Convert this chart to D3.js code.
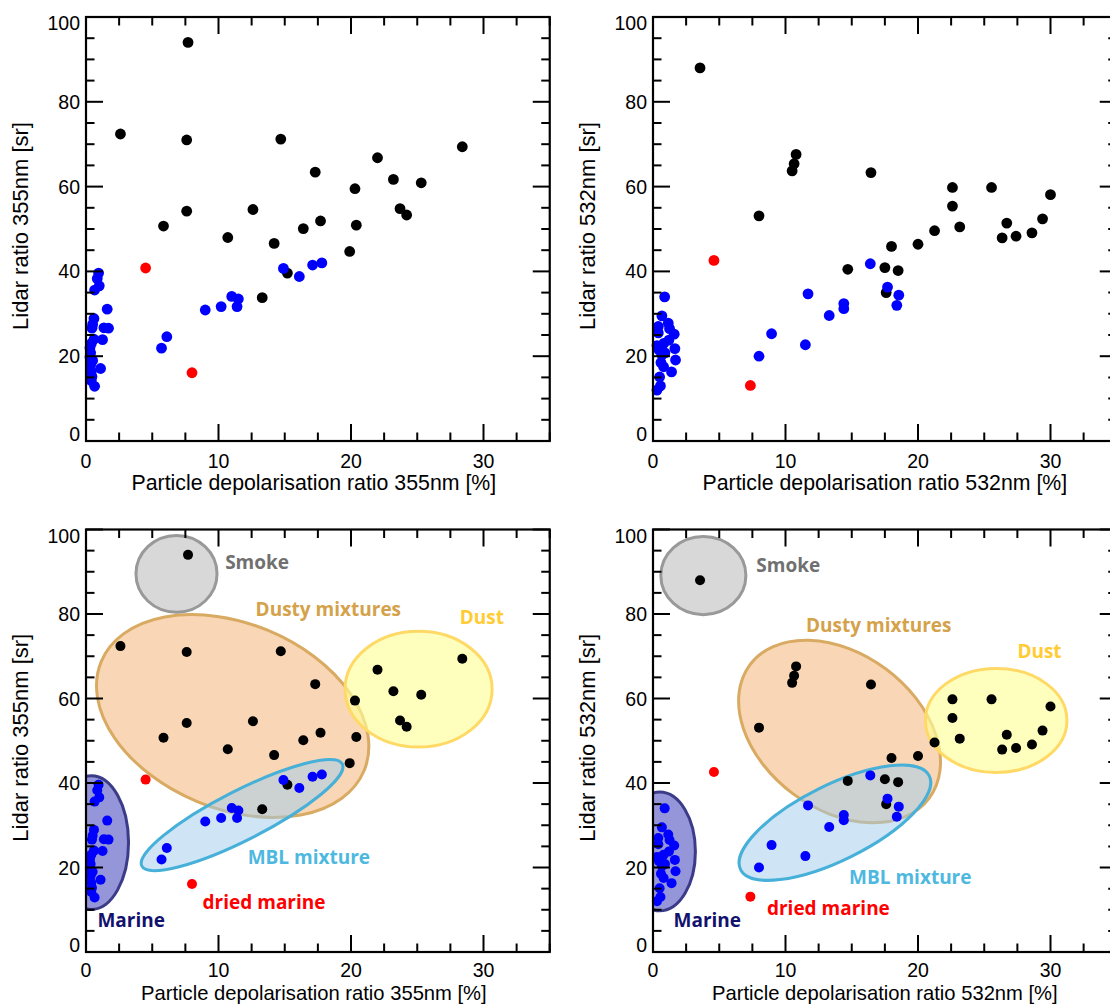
<!DOCTYPE html>
<html><head><meta charset="utf-8">
<script src="https://cdn.jsdelivr.net/npm/d3@7"></script>
<style>body{margin:0;background:#fff}svg{display:block}</style>
</head><body><svg id="c" width="1110" height="1004"></svg>
<script>
// ---------- axes ----------
const xDomain = [0, 35];
const yDomain = [0, 100];
const xMajorTicks = [0, 10, 20, 30];
const yMajorTicks = [0, 20, 40, 60, 80, 100];
const xMinorStep = 2.5;
const yMinorStep = 5;
const xTitles = ["Particle depolarisation ratio 355nm [%]", "Particle depolarisation ratio 532nm [%]"];
const yTitles = ["Lidar ratio 355nm [sr]", "Lidar ratio 532nm [sr]"];

// ---------- 355 nm data [depol %, lidar ratio sr] ----------
const black355 = [
  [7.7,94.0],[2.6,72.4],[7.6,71.0],[14.7,71.2],[28.4,69.4],[22.0,66.8],[17.3,63.4],
  [23.2,61.7],[25.3,60.9],[20.3,59.5],[12.6,54.6],[7.6,54.2],[23.7,54.8],[24.2,53.3],
  [5.85,50.7],[20.4,50.9],[17.7,51.9],[16.4,50.1],[10.7,48.0],[14.2,46.6],[19.9,44.7],
  [15.2,39.6],[13.3,33.8]
];
const red355 = [[4.5,40.8],[8.0,16.1]];
const blue355 = [
  [0.95,39.6],[0.85,38.3],[1.0,36.6],[0.65,35.6],[1.6,31.1],[0.6,28.9],[0.5,27.5],
  [0.45,26.6],[1.35,26.7],[1.7,26.6],[1.25,23.9],[0.6,24.0],[0.4,23.0],[0.3,22.0],
  [0.35,20.8],[0.3,19.8],[0.5,19.0],[0.35,18.0],[1.1,17.1],[0.4,16.4],[0.45,15.2],
  [0.4,14.2],[0.65,12.9],
  [5.7,21.9],[6.1,24.6],[9.0,30.9],[10.2,31.7],[11.0,34.1],[11.5,33.5],[11.4,31.7],
  [14.9,40.7],[16.1,38.8],[17.1,41.5],[17.8,42.0]
];

// ---------- 532 nm data ----------
const black532 = [
  [3.55,88.0],[10.8,67.6],[10.65,65.4],[10.5,63.7],[16.45,63.3],[8.0,53.1],[22.6,59.8],
  [25.55,59.8],[30.0,58.1],[22.6,55.4],[23.15,50.5],[21.25,49.6],[26.7,51.4],[29.4,52.4],
  [26.35,47.9],[27.4,48.3],[28.6,49.1],[20.0,46.4],[18.0,45.9],[14.7,40.5],[17.5,40.9],
  [18.5,40.2],[17.6,35.0]
];
const red532 = [[4.6,42.6],[7.35,13.1]];
const blue532 = [
  [0.88,34.0],[0.67,29.5],[1.15,27.8],[0.4,27.0],[1.25,26.5],[1.6,25.2],[0.4,25.5],
  [1.2,23.8],[0.8,23.0],[0.3,22.5],[1.65,21.8],[0.45,21.5],[0.9,20.8],[0.67,20.3],
  [1.7,19.1],[0.6,18.5],[0.8,17.5],[1.4,16.3],[0.5,15.1],[0.56,13.0],[0.3,12.0],
  [16.4,41.8],[17.7,36.3],[18.55,34.4],[18.4,32.0],[11.7,34.7],[14.4,32.4],[14.4,31.2],
  [13.3,29.6],[8.95,25.3],[11.5,22.7],[8.0,20.0]
];

// ---------- aerosol type regions (centre in data units, semi-axes in x-units, angle deg) ----------
const regionNames = ["Dusty mixtures", "Dust", "Smoke", "MBL mixture", "Marine"];
const regions355 = [
  {cx:11.07, cy:55.85, a:10.74, b:6.99, ang:22.5},
  {cx:25.1,  cy:62.2,  a:5.55,  b:4.37, ang:0},
  {cx:6.83,  cy:89.5,  a:3.06,  b:2.9,  ang:0},
  {cx:11.78, cy:32.4,  a:8.49,  b:1.86, ang:-27},
  {cx:0.4,   cy:25.9,  a:2.81,  b:5.05, ang:0}
];
const regions532 = [
  {cx:14.08, cy:52.2,  a:8.43, b:5.87, ang:36.6},
  {cx:25.9,  cy:54.8,  a:5.34, b:3.93, ang:0},
  {cx:3.8,   cy:89.1,  a:3.21, b:2.95, ang:0},
  {cx:13.73, cy:30.6,  a:7.95, b:2.83, ang:-26.4},
  {cx:0.5,   cy:23.8,  a:2.7,  b:4.48, ang:0}
];
const labelNames = ["Smoke", "Dusty mixtures", "Dust", "MBL mixture", "dried marine", "Marine"];
const labels355 = [[10.5,92.3],[12.8,81.2],[28.2,79.3],[12.2,22.5],[8.8,11.8],[0.86,7.5]];
const labels532 = [[7.8,91.5],[11.55,77.3],[27.5,71.2],[14.8,17.8],[8.6,10.3],[1.55,7.5]];

// ---------- styles ----------
const regionStyle = {
  "Dusty mixtures": {fill:"#f7c596", op:0.7, stroke:"#d8aa62"},
  "Dust":           {fill:"#ffff99", op:0.65, stroke:"#ffd966"},
  "Smoke":          {fill:"#d4d4d4", op:0.9, stroke:"#999999"},
  "MBL mixture":    {fill:"#9fcbee", op:0.5, stroke:"#46b0d8"},
  "Marine":         {fill:"#7272cc", op:0.75, stroke:"#3b3b88"}
};
const labelColor = {
  "Smoke":"#707070", "Dusty mixtures":"#d4a24a", "Dust":"#ffcc33",
  "MBL mixture":"#4db8e0", "dried marine":"#ff0000", "Marine":"#12126e"
};
const axisFont = "'Liberation Sans', Arial, Helvetica, sans-serif";
const labelFont = "'Open Sans', 'Noto Sans', sans-serif";

const panels = [
  {left:86,  top:17,    bottom:441, black:black355, red:red355, blue:blue355, k:0, regions:null},
  {left:653, top:17,    bottom:441, black:black532, red:red532, blue:blue532, k:1, regions:null},
  {left:86,  top:529.5, bottom:952, black:black355, red:red355, blue:blue355, k:0, regions:regions355, labels:labels355},
  {left:653, top:529.5, bottom:952, black:black532, red:red532, blue:blue532, k:1, regions:regions532, labels:labels532}
];
const pxPerX = 13.25;

const svg = d3.select("#c");

panels.forEach((p, i) => {
  const x = d3.scaleLinear().domain(xDomain).range([p.left, p.left + pxPerX * (xDomain[1]-xDomain[0])]);
  const y = d3.scaleLinear().domain(yDomain).range([p.bottom, p.top]);
  const [x0, x1] = x.range();
  const g = svg.append("g");
  const kx = x(1) - x(0);

  // regions
  if (p.regions) {
    const cid = "clip" + i;
    svg.append("clipPath").attr("id", cid).append("rect")
      .attr("x", x0).attr("y", p.top).attr("width", x1 - x0).attr("height", p.bottom - p.top);
    const rg = g.append("g").attr("clip-path", `url(#${cid})`);
    p.regions.forEach((r, j) => {
      const st = regionStyle[regionNames[j]];
      rg.append("ellipse")
        .attr("cx", 0).attr("cy", 0)
        .attr("rx", r.a * kx).attr("ry", r.b * kx)
        .attr("transform", `translate(${x(r.cx)},${y(r.cy)}) rotate(${r.ang})`)
        .attr("fill", st.fill).attr("fill-opacity", st.op)
        .attr("stroke", st.stroke).attr("stroke-width", 3);
    });
  }

  // points
  const rad = p.regions ? 5 : 5.4;
  const dots = (arr, col) => g.append("g").selectAll("circle").data(arr).join("circle")
    .attr("cx", d => x(d[0])).attr("cy", d => y(d[1])).attr("r", rad).attr("fill", col);
  dots(p.black, "#000000");
  dots(p.red, "#ff0000");
  dots(p.blue, "#0000ff");

  // labels
  if (p.labels) {
    p.labels.forEach((l, j) => {
      const name = labelNames[j];
      g.append("text").attr("x", x(l[0])).attr("y", y(l[1])).attr("dy", "0.36em")
        .attr("font-family", labelFont).attr("font-weight", 700).attr("font-size", 19)
        .attr("fill", labelColor[name]).text(name);
    });
  }

  // frame
  const ax = g.append("g").attr("stroke", "#000").attr("stroke-width", 2).attr("fill", "none");
  ax.append("rect").attr("x", x0).attr("y", p.top).attr("width", x1 - x0).attr("height", p.bottom - p.top)
    .attr("stroke-width", 2.2);
  const xMinor = d3.range(xDomain[0], xDomain[1] + 1e-6, xMinorStep);
  const yMinor = d3.range(yDomain[0], yDomain[1] + 1e-6, yMinorStep);
  const isXMajor = v => xMajorTicks.includes(v);
  const isYMajor = v => yMajorTicks.includes(v);
  xMinor.forEach(v => {
    const L = isXMajor(v) ? 17 : 8.5;
    ax.append("line").attr("x1", x(v)).attr("x2", x(v)).attr("y1", p.bottom).attr("y2", p.bottom - L);
    ax.append("line").attr("x1", x(v)).attr("x2", x(v)).attr("y1", p.top).attr("y2", p.top + L);
  });
  yMinor.forEach(v => {
    const L = isYMajor(v) ? 17 : 8.5;
    ax.append("line").attr("x1", x0).attr("x2", x0 + L).attr("y1", y(v)).attr("y2", y(v));
    ax.append("line").attr("x1", x1).attr("x2", x1 - L).attr("y1", y(v)).attr("y2", y(v));
  });

  // tick labels
  const tl = g.append("g").attr("font-family", axisFont).attr("font-size", 19.5).attr("fill", "#000");
  const xLabOff = p.regions ? 24.5 : 26.5;
  xMajorTicks.forEach(v => {
    tl.append("text").attr("x", x(v)).attr("y", p.bottom + xLabOff).attr("text-anchor", "middle").text(v);
  });
  yMajorTicks.forEach(v => {
    const nudge = v === yDomain[1] ? 6 : (v === yDomain[0] ? -7 : 0);
    tl.append("text").attr("x", x0 - 6).attr("y", y(v) + nudge).attr("dy", "0.36em")
      .attr("text-anchor", "end").text(v);
  });

  // titles
  const titleY = p.regions ? 1000 : p.bottom + 49;
  const titleSize = p.regions ? 20.2 : 21.3;
  g.append("text").attr("x", (x0 + x1) / 2 - (p.k ? 0 : 4)).attr("y", titleY)
    .attr("text-anchor", "middle").attr("font-family", axisFont).attr("font-size", titleSize)
    .text(xTitles[p.k]);
  const ym = (p.top + p.bottom) / 2;
  g.append("text").attr("transform", `translate(${x0 - 58},${ym - 3}) rotate(-90)`)
    .attr("text-anchor", "middle").attr("font-family", axisFont).attr("font-size", 22)
    .text(yTitles[p.k]);
});
</script></body></html>
